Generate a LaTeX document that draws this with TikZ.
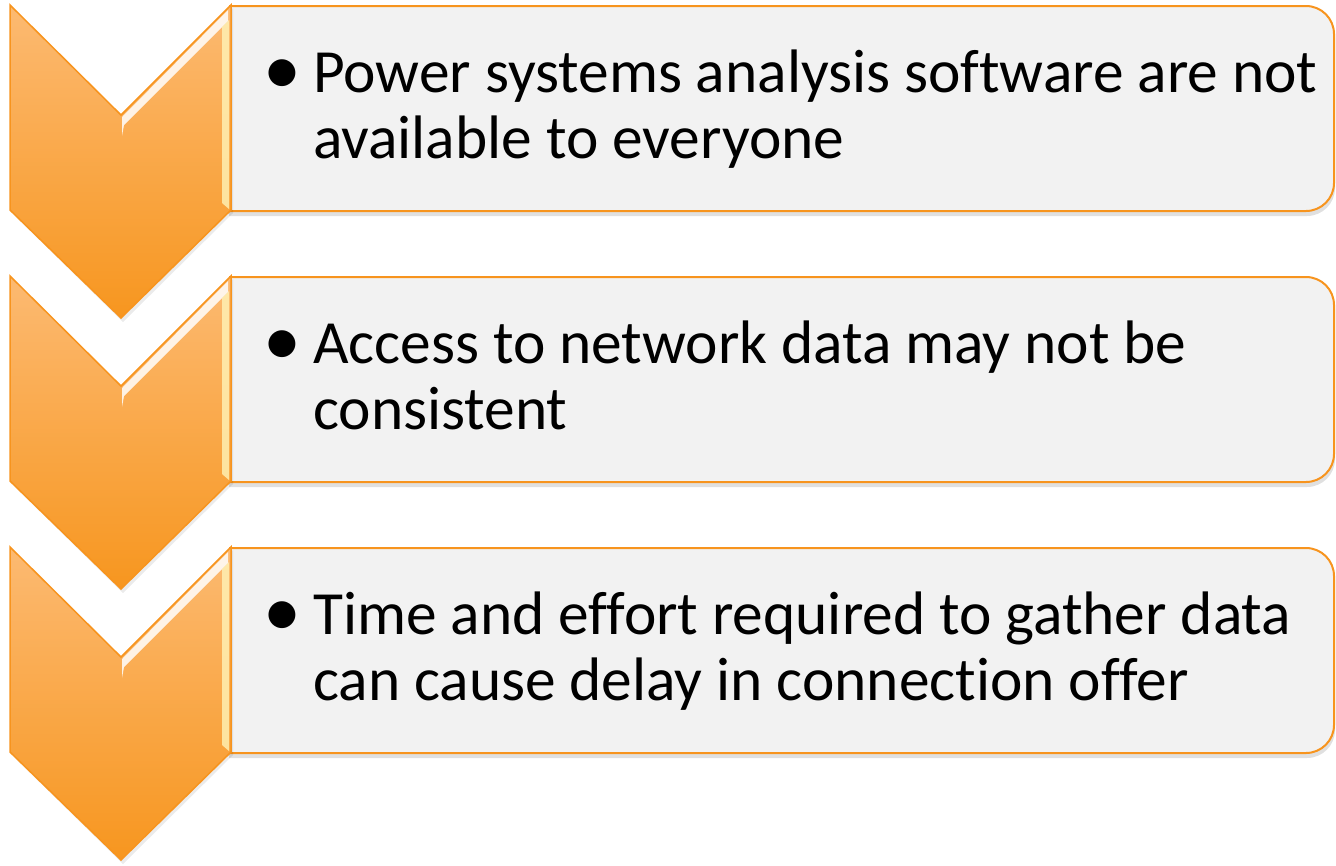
\documentclass[tikz,border=0pt]{standalone}
\usepackage{fontspec}
\setmainfont{Carlito}[Ligatures={NoCommon}]
\definecolor{chevtop}{HTML}{FCBA72}
\definecolor{chevbot}{HTML}{F7961F}
\definecolor{edgeorange}{HTML}{F7941E}
\definecolor{panelgray}{HTML}{F2F2F2}
\definecolor{shinecol}{HTML}{FFF4B8}
\tikzset{
  panel/.style={fill=panelgray, draw=edgeorange, line width=2pt},
  panelshadow/.style={fill=black, opacity=0.12},
  chev/.style={top color=chevtop, bottom color=chevbot, draw=edgeorange, line width=1.5pt, line join=miter},
  chevshadow/.style={fill=black, opacity=0.08},
  shine/.style={fill=white, opacity=0.85},
  edgeshine/.style={fill=shinecol, opacity=0.8},
  textline/.style={anchor=base west, inner sep=0pt, font=\fontsize{61.4}{66}\selectfont},
  bulletmark/.style={anchor=base west, inner sep=0pt, font=\fontsize{76}{76}\selectfont},
}
\begin{document}
\begin{tikzpicture}[x=1pt, y=-1pt]
\useasboundingbox (0,0) rectangle (1336,865);
\foreach \i/\la/\lb in {
  0/{Power systems analysis software are not}/{available to everyone},
  1/{Access to network data may not be}/{consistent},
  2/{Time and effort required to gather data}/{can cause delay in connection offer}} {
  \pgfmathsetmacro{\T}{5+271*\i}
  % text panel: square on the left, rounded on the right
  \begin{scope}
    \clip (229,{\T-20}) rectangle (1336,{\T+230});
    \fill[panelshadow, rounded corners=28pt] (195,{\T+5}) rectangle (1335,{\T+211});
    \draw[panel, rounded corners=28pt] (190,{\T+1}) rectangle (1334,{\T+206});
  \end{scope}
  % downward chevron
  \fill[chevshadow] (12,{\T+3}) -- (123,{\T+113}) -- (233,{\T+3}) -- (233,{\T+208}) -- (123,{\T+317}) -- (12,{\T+208}) -- cycle;
  \draw[chev] (10,\T) -- (121,{\T+110}) -- (231,\T) -- (231,{\T+205}) -- (121,{\T+313}) -- (10,{\T+205}) -- cycle;
  % bevel highlights
  \fill[shine] (122,{\T+112}) -- (228,{\T+5}) -- (228,{\T+16}) -- (124,{\T+120}) -- (122,{\T+131}) -- cycle;
  \fill[edgeshine] (222,{\T+22}) -- (229,{\T+15}) -- (229,{\T+204}) -- (222,{\T+198}) -- cycle;
  % bulleted text
  \node[bulletmark] (b\i) at (263,{\T+89.5}) {•};
  \node[textline] (la\i) at (313,{\T+87}) {\la};
  \node[textline] (lb\i) at (313,{\T+153}) {\lb};
}
\end{tikzpicture}
\end{document}
